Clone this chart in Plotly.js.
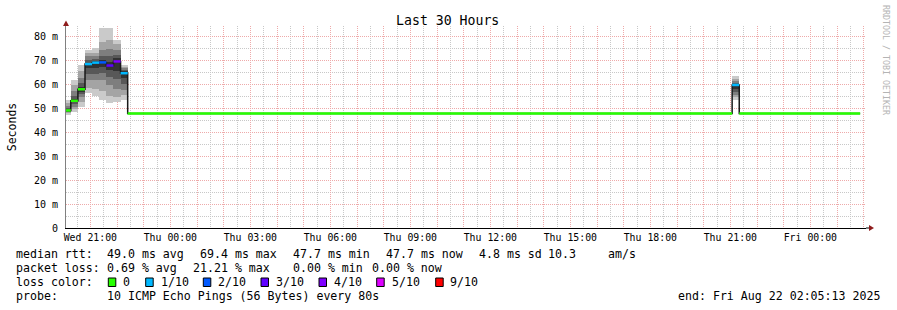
<!DOCTYPE html>
<html>
<head>
<meta charset="utf-8">
<script src="https://cdn.plot.ly/plotly-3.0.1.min.js"></script>
<style>
  html, body { margin: 0; padding: 0; background: #ffffff; }
  #chart { width: 897px; height: 310px; }
</style>
</head>
<body>
<div id="chart"></div>
<script>
// ---------------- DATA ----------------
// median RTT in milliseconds per consolidated step (start / end times, UTC as shown)
var segStart = ['2025-08-20 20:00', '2025-08-20 20:16', '2025-08-20 20:32', '2025-08-20 20:48',
                '2025-08-20 21:04', '2025-08-20 21:20', '2025-08-20 21:36', '2025-08-20 21:52',
                '2025-08-20 22:08', '2025-08-20 22:24', '2025-08-21 21:04', '2025-08-21 21:20'];
var segEnd   = ['2025-08-20 20:16', '2025-08-20 20:32', '2025-08-20 20:48', '2025-08-20 21:04',
                '2025-08-20 21:20', '2025-08-20 21:36', '2025-08-20 21:52', '2025-08-20 22:08',
                '2025-08-20 22:24', '2025-08-21 21:04', '2025-08-21 21:20', '2025-08-22 01:52'];
var medianMs = [49.0, 53.0, 57.8, 68.3, 68.9, 69.0, 67.7, 69.4, 64.5, 47.7, 59.6, 47.7];
var lossTenths = [0, 0, 0, 1, 1, 2, 3, 4, 1, 0, 1, 0];

// smoke: sorted ping pairs (outer pair = band 1 ... inner pair = band 5), ms
var band1Lo = [47.2, 48.5, 50.5, 56.1, 55.0, 53.3, 52.2, 52.6, 53.3, null, 53.3, null];
var band1Hi = [53.3, 61.7, 67.9, 74.2, 74.8, 83.2, 83.2, 78.3, 67.9, null, 63.3, null];
var band2Lo = [47.8, 49.5, 52.5, 58.2, 58.0, 57.0, 55.0, 54.5, 55.5, null, 54.5, null];
var band2Hi = [52.0, 59.5, 65.5, 72.8, 73.0, 77.6, 78.5, 76.5, 67.2, null, 62.2, null];
var band3Lo = [48.2, 50.5, 54.5, 61.5, 61.5, 61.5, 59.5, 58.0, 57.5, null, 55.5, null];
var band3Hi = [51.0, 57.0, 62.5, 71.5, 71.8, 74.0, 74.5, 74.0, 66.6, null, 61.3, null];
var band4Lo = [48.5, 51.5, 55.8, 64.0, 64.0, 64.5, 63.0, 62.0, 60.0, null, 56.5, null];
var band4Hi = [50.0, 55.0, 60.5, 70.0, 70.6, 71.8, 71.5, 72.0, 66.0, null, 60.6, null];
var band5Lo = [48.7, 52.3, 56.8, 66.5, 66.5, 67.0, 65.8, 65.5, 62.5, null, 57.8, null];
var band5Hi = [49.4, 53.8, 58.8, 68.8, 69.6, 70.2, 69.0, 70.8, 65.4, null, 60.2, null];

// loss colour legend
var lossLevels = [0, 1, 2, 3, 4, 5, 9];
var lossLabels = ['0', '1/10', '2/10', '3/10', '4/10', '5/10', '9/10'];
var lossColors = ['#26ff00', '#00b8ff', '#0059ff', '#5e00ff', '#7e00ff', '#dd00ff', '#ff0000'];

// axis ticks
var yTickVals = [0, 10, 20, 30, 40, 50, 60, 70, 80];
var yTickText = ['0', '10 m', '20 m', '30 m', '40 m', '50 m', '60 m', '70 m', '80 m'];
var rangeStart = '2025-08-20 20:05:13';
var rangeEnd = '2025-08-22 02:05:13';

// legend text
var rttStats = ['49.0 ms avg', '69.4 ms max', '47.7 ms min', '47.7 ms now', '4.8 ms sd', '10.3', 'am/s'];
var lossStats = ['0.69 % avg', '21.21 % max', '0.00 % min', '0.00 % now'];
var probeText = '10 ICMP Echo Pings (56 Bytes) every 80s';
var endText = 'end: Fri Aug 22 02:05:13 2025';

// ---------------- BUILD ----------------
function ms(s) { return Date.parse(s.replace(' ', 'T') + (s.length === 16 ? ':00Z' : 'Z')); }
var startMs = segStart.map(ms), endMs = segEnd.map(ms);
var centers = startMs.map(function (s, i) { return (s + endMs[i]) / 2; });
var widths = startMs.map(function (s, i) { return endMs[i] - s; });

var FONT = 'DejaVu Sans Mono';
var smokeGrays = ['#cacaca', '#a4a4a4', '#7e7e7e', '#585858', '#323232'];
var bands = [[band1Lo, band1Hi], [band2Lo, band2Hi], [band3Lo, band3Hi], [band4Lo, band4Hi], [band5Lo, band5Hi]];

var traces = [];
bands.forEach(function (b, k) {
  traces.push({
    type: 'bar', x: centers, width: widths, base: b[0],
    y: b[0].map(function (lo, i) { return lo === null ? null : b[1][i] - lo; }),
    marker: { color: smokeGrays[k], line: { width: 0 } },
    hoverinfo: 'skip', showlegend: false, xaxis: 'x', yaxis: 'y'
  });
});

// black stepped median line
var lx = startMs.concat([endMs[endMs.length - 1]]);
var ly = medianMs.concat([medianMs[medianMs.length - 1]]);
traces.push({
  type: 'scatter', mode: 'lines', x: lx, y: ly, line: { shape: 'hv', color: '#1a1a1a', width: 1.5 },
  hoverinfo: 'skip', showlegend: false, xaxis: 'x2', yaxis: 'y'
});

// coloured median segments by loss
lossLevels.forEach(function (lv, j) {
  var xs = [], ys = [];
  lossTenths.forEach(function (l, i) {
    if (l === lv) { xs.push(startMs[i], endMs[i], null); ys.push(medianMs[i], medianMs[i], null); }
  });
  if (xs.length) {
    traces.push({
      type: 'scatter', mode: 'lines', x: xs, y: ys, connectgaps: false,
      line: { color: lossColors[j], width: 2.5 }, hoverinfo: 'skip', showlegend: false,
      xaxis: 'x2', yaxis: 'y'
    });
  }
});

// pixel -> paper helpers (plot area 66..866 x 26..228)
var L = 66, R = 866, T = 26, B = 228;
function px(x) { return (x - L) / (R - L); }
function py(y) { return (B - y) / (B - T); }

var annotations = [];
function txt(t, x, y, size, color) {
  annotations.push({ text: t, xref: 'paper', yref: 'paper', x: px(x), y: py(y), xanchor: 'left', yanchor: 'middle',
    showarrow: false, borderpad: 0, borderwidth: 0, font: { family: FONT, size: size || 11.6, color: color || '#000000' } });
}
txt('median rtt:', 16, 254);
[106.7, 200, 293.3, 386.2, 479, 548.3, 607.7].forEach(function (x, i) { txt(rttStats[i], x, 254); });
txt('packet loss:', 16, 268);
[107.3, 193.3, 293.3, 371.7].forEach(function (x, i) { txt(lossStats[i], x, 268); });
txt('loss color:', 16, 282);
var sqX = [108.3, 145.7, 203.3, 261, 319, 376.7, 435.7];
var lblX = [123, 160.7, 218.3, 276, 334, 391.7, 450];
var shapes = [];
lossLabels.forEach(function (lb, i) {
  txt(lb, lblX[i], 282);
  shapes.push({ type: 'rect', xref: 'paper', yref: 'paper', x0: px(sqX[i]), x1: px(sqX[i] + 7.5),
    y0: py(286.5), y1: py(278), fillcolor: lossColors[i], line: { color: '#000000', width: 1 } });
});
txt('probe:', 16, 296);
txt(probeText, 107.3, 296);
txt(endText, 678.3, 296);

// watermark
annotations.push({ text: 'RRDTOOL / TOBI OETIKER', xref: 'paper', yref: 'paper', x: px(886), y: py(60),
  xanchor: 'center', yanchor: 'middle', textangle: 90, showarrow: false, borderpad: 0, borderwidth: 0,
  font: { family: FONT, size: 8.3, color: '#b4b4b4' } });

// axis arrows
shapes.push({ type: 'path', xref: 'paper', yref: 'paper', fillcolor: '#8f1c1c', line: { width: 0 },
  path: 'M' + px(63) + ',' + py(26) + ' L' + px(69) + ',' + py(26) + ' L' + px(66) + ',' + py(20.5) + ' Z' });
shapes.push({ type: 'line', xref: 'paper', yref: 'paper', x0: px(866), x1: px(869), y0: py(228), y1: py(228),
  line: { color: '#000000', width: 1 } });
shapes.push({ type: 'path', xref: 'paper', yref: 'paper', fillcolor: '#8f1c1c', line: { width: 0 },
  path: 'M' + px(869) + ',' + py(225) + ' L' + px(869) + ',' + py(231) + ' L' + px(874) + ',' + py(228) + ' Z' });

var HOUR = 3600000;
var pink = '#eeaaaa', gray = '#c8c8c8';
var layout = {
  width: 897, height: 310,
  margin: { l: L, r: 897 - R, t: T, b: 310 - B, pad: 0 },
  paper_bgcolor: '#ffffff', plot_bgcolor: '#ffffff',
  barmode: 'overlay', bargap: 0, showlegend: false,
  title: { text: 'Last 30 Hours', x: 447.7 / 897, xref: 'container', xanchor: 'center',
           y: 1 - 20 / 310, yref: 'container', yanchor: 'middle',
           font: { family: FONT, size: 13.2, color: '#000000' } },
  xaxis: {
    type: 'date', range: [ms(rangeStart), ms(rangeEnd)], autorange: false, fixedrange: true,
    tickmode: 'linear', tick0: '2025-08-20 21:00', dtick: 3 * HOUR, tickformat: '%a %H:%M',
    ticks: '', ticklabelstandoff: 0,
    tickfont: { family: FONT, size: 9.85, color: '#000000' },
    showgrid: true, gridcolor: pink, griddash: '1px,1px', gridwidth: 1,
    minor: { tick0: '2025-08-20 20:30', dtick: HOUR, showgrid: true, gridcolor: gray, griddash: '1px,1px', gridwidth: 1, ticks: '' },
    showline: true, linecolor: '#000000', linewidth: 1, zeroline: false
  },
  xaxis2: {
    type: 'date', overlaying: 'x', anchor: 'y', range: [ms(rangeStart), ms(rangeEnd)], autorange: false, fixedrange: true,
    tickmode: 'linear', tick0: '2025-08-20 21:00', dtick: HOUR, showticklabels: false, ticks: '',
    showgrid: true, gridcolor: pink, griddash: '1px,1px', gridwidth: 1, zeroline: false, showline: false
  },
  yaxis: {
    type: 'linear', range: [0, (B - T) / 2.4], autorange: false, fixedrange: true,
    tickmode: 'array', tickvals: yTickVals, ticktext: yTickText, ticks: '', ticklabelstandoff: 5,
    tickfont: { family: FONT, size: 10, color: '#000000' },
    showgrid: true, gridcolor: pink, griddash: '1px,1px', gridwidth: 1,
    minor: { tick0: 5, dtick: 10, showgrid: true, gridcolor: gray, griddash: '1px,1px', gridwidth: 1, ticks: '' },
    showline: true, linecolor: '#808080', linewidth: 1, zeroline: false,
    title: { text: 'Seconds', standoff: 14, font: { family: FONT, size: 11.5, color: '#000000' } }
  },
  annotations: annotations,
  shapes: shapes
};

Plotly.newPlot('chart', traces, layout, { displayModeBar: false, staticPlot: true });
</script>
</body>
</html>
